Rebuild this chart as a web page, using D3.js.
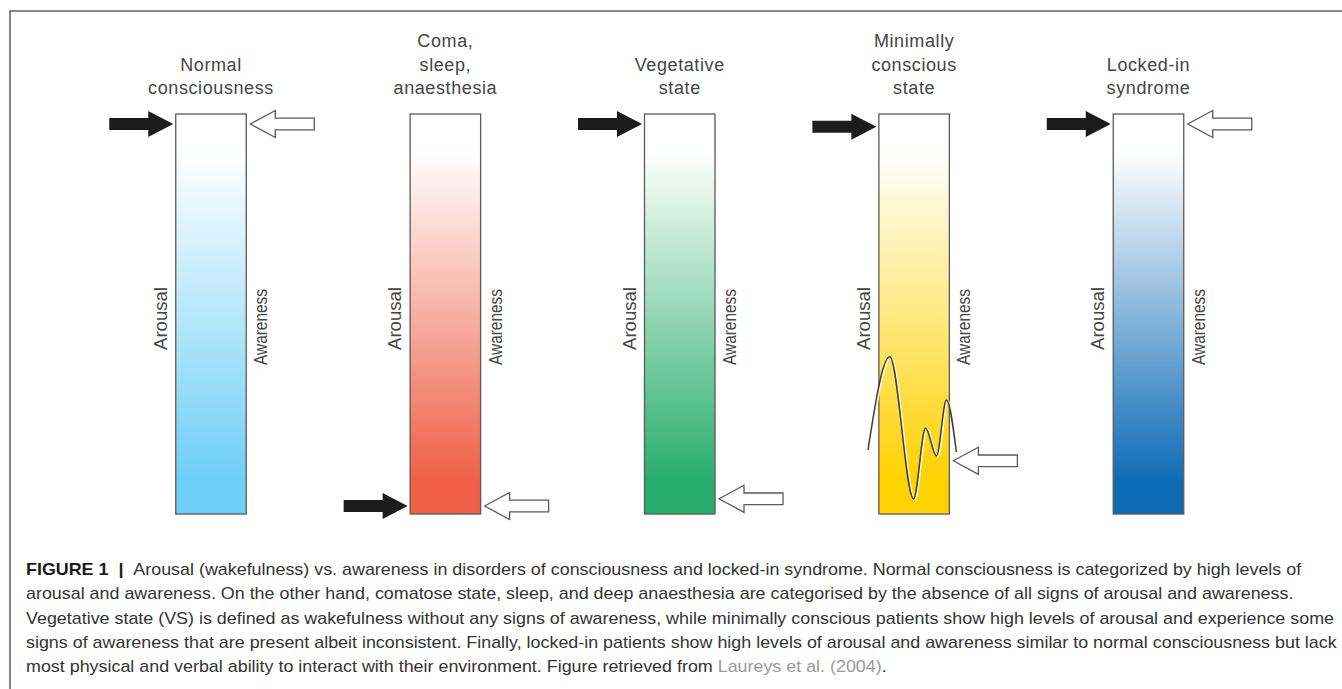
<!DOCTYPE html>
<html>
<head>
<meta charset="utf-8">
<script src="https://cdn.jsdelivr.net/npm/d3@7"></script>
<style>
  body { margin: 0; background: #fff; }
  svg { display: block; }
</style>
</head>
<body>
<div id="chart"></div>
<script>
/* Arousal vs. awareness figure: five gradient bars with level arrows. */

// title lines above each bar
var stateTitles = [
    ["Normal", "consciousness"],
    ["Coma,", "sleep,", "anaesthesia"],
    ["Vegetative", "state"],
    ["Minimally", "conscious", "state"],
    ["Locked-in", "syndrome"]
];
// level of the black (arousal) and white (awareness) arrows, 0 = bottom, 100 = top
var arousalLevels = [97.5, 2, 97.5, 96.8, 97.5];
var awarenessLevels = [97.5, 2, 3.8, 13.3, 97.5];
var barColors = ["#6dcff6", "#ef5f45", "#27ad6b", "#ffd200", "#0e6bb5"];

// fluctuating awareness in the minimally conscious state (bar 4)
// x is relative to the bar (0 = left edge, 1 = right edge)
var waveX = [-0.155, 0.155, 0.493, 0.662, 0.817, 0.958, 1.099];
var waveLevel = [16, 39.3, 3.8, 21.5, 14.5, 28.5, 15.5];
var waveBar = 3;

var captionLines = [
    [{t: "FIGURE 1", b: true}, {t: "  |  ", b: true}, {t: "Arousal (wakefulness) vs. awareness in disorders of consciousness and locked-in syndrome. Normal consciousness is categorized by high levels of"}],
    [{t: "arousal and awareness. On the other hand, comatose state, sleep, and deep anaesthesia are categorised by the absence of all signs of arousal and awareness."}],
    [{t: "Vegetative state (VS) is defined as wakefulness without any signs of awareness, while minimally conscious patients show high levels of arousal and experience some"}],
    [{t: "signs of awareness that are present albeit inconsistent. Finally, locked-in patients show high levels of arousal and awareness similar to normal consciousness but lack"}],
    [{t: "most physical and verbal ability to interact with their environment. Figure retrieved from "}, {t: "Laureys et al. (2004)", g: true}, {t: "."}]
];

var width = 1342, height = 689;
var barWidth = 70.5;

var svg = d3.select("#chart").append("svg")
    .attr("width", width)
    .attr("height", height);

// figure frame (runs off the right and bottom edges)
svg.append("rect")
    .attr("x", 10).attr("y", 11)
    .attr("width", 1400).attr("height", 800)
    .attr("fill", "none")
    .attr("stroke", "#555")
    .attr("stroke-width", 1.4);

var xScale = d3.scalePoint()
    .domain(d3.range(stateTitles.length))
    .range([211, 1148.5]);

var yScale = d3.scaleLinear()
    .domain([0, 100])
    .range([514, 114]);

// gradients: white at top fading to the state colour
var defs = svg.append("defs");
barColors.forEach(function(c, i) {
    var grad = defs.append("linearGradient")
        .attr("id", "grad" + i)
        .attr("x1", 0).attr("y1", 0).attr("x2", 0).attr("y2", 1);
    grad.append("stop").attr("offset", "0").attr("stop-color", "#fff");
    grad.append("stop").attr("offset", "0.09").attr("stop-color", "#fff");
    grad.append("stop").attr("offset", "0.92").attr("stop-color", c);
    grad.append("stop").attr("offset", "1").attr("stop-color", c);
});

var cols = svg.selectAll(".state")
    .data(stateTitles).enter()
    .append("g")
    .attr("class", "state");

cols.append("rect")
    .attr("x", function(d, i) { return xScale(i) - barWidth / 2; })
    .attr("y", yScale(100))
    .attr("width", barWidth)
    .attr("height", yScale(0) - yScale(100))
    .attr("fill", function(d, i) { return "url(#grad" + i + ")"; })
    .attr("stroke", "#5a5a5a")
    .attr("stroke-width", 1.3);

// titles, bottom line sits at a fixed baseline
var titleFont = "'Liberation Sans', Arial, sans-serif";
cols.each(function(lines, i) {
    var n = lines.length;
    d3.select(this).selectAll(".title")
        .data(lines).enter()
        .append("text")
        .attr("class", "title")
        .attr("x", xScale(i))
        .attr("y", function(d, j) { return 94 - (n - 1 - j) * 23.5; })
        .attr("text-anchor", "middle")
        .attr("font-family", titleFont)
        .attr("font-size", 18)
        .attr("letter-spacing", 0.6)
        .attr("fill", "#454545")
        .text(function(d) { return d; });
});

// side labels
cols.append("text")
    .attr("transform", function(d, i) {
        return "translate(" + (xScale(i) - barWidth / 2 - 9) + "," + 287 + ") rotate(-90)";
    })
    .attr("text-anchor", "end")
    .attr("font-family", titleFont)
    .attr("font-size", 18)
    .attr("textLength", 63)
    .attr("lengthAdjust", "spacingAndGlyphs")
    .attr("fill", "#454545")
    .text("Arousal");

cols.append("text")
    .attr("transform", function(d, i) {
        return "translate(" + (xScale(i) + barWidth / 2 + 21) + "," + 289 + ") rotate(-90)";
    })
    .attr("text-anchor", "end")
    .attr("font-family", titleFont)
    .attr("font-size", 18)
    .attr("textLength", 76)
    .attr("lengthAdjust", "spacingAndGlyphs")
    .attr("fill", "#454545")
    .text("Awareness");

function arrowPath(tipX, tipY, dir, len, head, headHalf, shaftHalf) {
    // dir = 1 points right, -1 points left
    var baseX = tipX - dir * head, tailX = tipX - dir * len;
    var p = d3.path();
    p.moveTo(tipX, tipY);
    p.lineTo(baseX, tipY - headHalf);
    p.lineTo(baseX, tipY - shaftHalf);
    p.lineTo(tailX, tipY - shaftHalf);
    p.lineTo(tailX, tipY + shaftHalf);
    p.lineTo(baseX, tipY + shaftHalf);
    p.lineTo(baseX, tipY + headHalf);
    p.closePath();
    return p.toString();
}

// black arrows = arousal
cols.append("path")
    .attr("d", function(d, i) {
        return arrowPath(xScale(i) - barWidth / 2 - 2.5, yScale(arousalLevels[i]), 1, 64, 25, 13, 6);
    })
    .attr("fill", "#1c1c1c");

// white arrows = awareness
cols.append("path")
    .attr("d", function(d, i) {
        return arrowPath(xScale(i) + barWidth / 2 + 4, yScale(awarenessLevels[i]), -1, 64, 25, 13.5, 5.8);
    })
    .attr("fill", "#fff")
    .attr("stroke", "#5a5a5a")
    .attr("stroke-width", 1.3);

// wave for the fluctuating awareness
var waveScale = d3.scaleLinear()
    .domain([0, 1])
    .range([xScale(waveBar) - barWidth / 2, xScale(waveBar) + barWidth / 2]);

var wavePts = waveX.map(function(x, i) { return [waveScale(x), yScale(waveLevel[i])]; });
var waveLine = d3.line().curve(d3.curveMonotoneX);

svg.append("path")
    .attr("d", waveLine(wavePts))
    .attr("transform", "translate(1.4,0.8)")
    .attr("fill", "none")
    .attr("stroke", "#fffbe8")
    .attr("stroke-width", 1.6);

svg.append("path")
    .attr("d", waveLine(wavePts))
    .attr("fill", "none")
    .attr("stroke", "#3d3d3d")
    .attr("stroke-width", 1.5);

// caption
var capFont = "'Liberation Sans', Arial, sans-serif";
var capLeft = 26, capRight = 1334;
var capTexts = svg.selectAll(".caption")
    .data(captionLines).enter()
    .append("text")
    .attr("class", "caption")
    .attr("x", capLeft)
    .attr("y", function(d, i) { return 575 + i * 24.3; })
    .attr("font-family", capFont)
    .attr("font-size", 17)
    .attr("fill", "#333")
    .attr("xml:space", "preserve")
    .style("white-space", "pre");

capTexts.selectAll("tspan")
    .data(function(d) { return d; }).enter()
    .append("tspan")
    .attr("font-weight", function(d) { return d.b ? "bold" : null; })
    .attr("fill", function(d) { return d.b ? "#1a1a1a" : (d.g ? "#9a9a9a" : null); })
    .text(function(d) { return d.t; });

// squeeze every line by the same factor so the long third line fills the column
var natural = [];
capTexts.each(function() { natural.push(this.getComputedTextLength()); });
var k = (capRight - capLeft) / natural[2];
capTexts.attr("textLength", function(d, i) { return natural[i] * k; })
    .attr("lengthAdjust", "spacingAndGlyphs");
</script>
</body>
</html>
